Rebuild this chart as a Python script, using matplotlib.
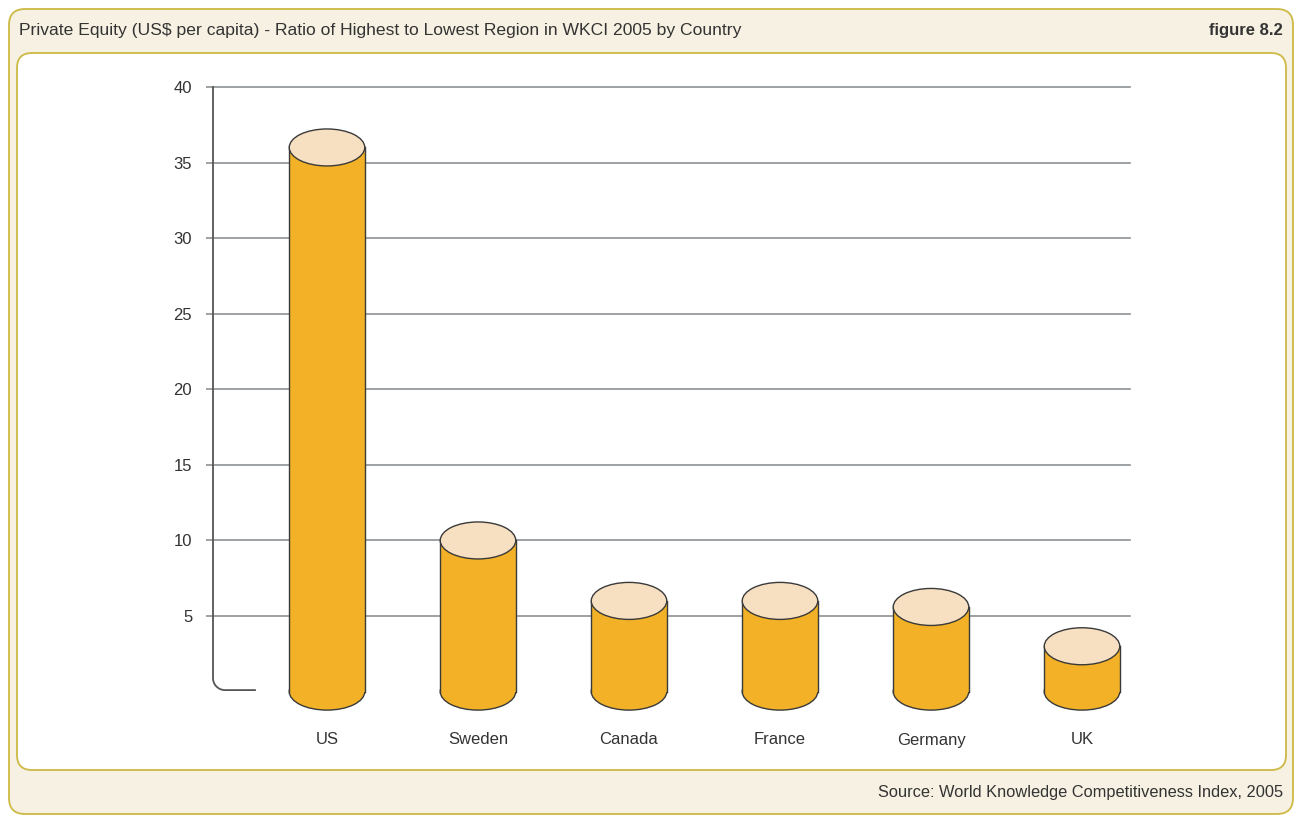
import matplotlib
matplotlib.use('Agg')
import matplotlib.pyplot as plt
from matplotlib.patches import FancyBboxPatch, Ellipse, Rectangle
import numpy as np

plt.rcParams['font.family'] = ['Liberation Sans', 'DejaVu Sans']

# data
countries = ['US', 'Sweden', 'Canada', 'France', 'Germany', 'UK']
ratios = [36.0, 10.0, 6.0, 6.0, 5.6, 3.0]
yticks = [5, 10, 15, 20, 25, 30, 35, 40]

title = 'Private Equity (US$ per capita) - Ratio of Highest to Lowest Region in WKCI 2005 by Country'
source = 'Source: World Knowledge Competitiveness Index, 2005'

body_col = '#F2B126'
top_col = '#F7E0C2'
edge_col = '#3a3a3a'
grid_col = '#8e9194'
frame_col = '#CDB944'
cream = '#F6F1E2'
text_col = '#333333'

W, H = 1295, 818
fig = plt.figure(figsize=(W / 100, H / 100), dpi=100, facecolor='white')

# background frame in pixel coords
bg = fig.add_axes([0, 0, 1, 1])
bg.set_xlim(0, W)
bg.set_ylim(H, 0)
bg.axis('off')
bg.add_patch(FancyBboxPatch((9, 9), 1284, 805, boxstyle='round,pad=0,rounding_size=16',
                            facecolor=cream, edgecolor=frame_col, linewidth=1.3))
bg.add_patch(FancyBboxPatch((17, 53), 1269, 717, boxstyle='round,pad=0,rounding_size=15',
                            facecolor='white', edgecolor=frame_col, linewidth=1.3))
bg.text(19, 31, title, fontsize=12.6, color=text_col, va='center', ha='left')
bg.text(1283, 31, 'figure 8.2', fontsize=12, color=text_col, va='center', ha='right',
        fontweight='bold')
bg.text(1283, 792, source, fontsize=11.8, color=text_col, va='center', ha='right')

# main chart axes
px_left, px_right = 213, 1130
px_y0, px_y40 = 691.6, 87
ax = fig.add_axes([px_left / W, 1 - px_y0 / H, (px_right - px_left) / W, (px_y0 - px_y40) / H])
ax.patch.set_alpha(0)
spacing = 151.0
xl = (px_left - 327) / spacing
xr = (px_right - 327) / spacing
ax.set_xlim(xl, xr)
ax.set_ylim(0, 40)
for s in ax.spines.values():
    s.set_visible(False)
ax.set_xticks([])
ax.set_yticks(yticks)
ax.tick_params(axis='y', length=5, width=1.2, color=grid_col, pad=10, labelsize=12,
               labelcolor=text_col)
for t in yticks:
    ax.plot([xl, xr], [t, t], color=grid_col, lw=1.2, zorder=1, clip_on=False)

# left axis line with rounded corner
ppu_y = (px_y0 - px_y40) / 40
rx, ry = 12 / spacing, 12 / ppu_y
yb = 0.1
th = np.linspace(np.pi, 1.5 * np.pi, 20)
arc_x = xl + rx + rx * np.cos(th)
arc_y = yb + ry + ry * np.sin(th)
lx = np.concatenate([[xl], arc_x, [(255 - 327) / spacing]])
ly = np.concatenate([[40], arc_y, [yb]])
ax.plot(lx, ly, color='#555555', lw=1.3, clip_on=False, zorder=2)

# cylinders
bw = 0.5
eh = 37 / ppu_y
for i, (c, v) in enumerate(zip(countries, ratios)):
    ax.add_patch(Ellipse((i, 0), bw, eh, facecolor=body_col, edgecolor=edge_col, lw=1.0,
                         zorder=3, clip_on=False))
    ax.add_patch(Rectangle((i - bw / 2, 0), bw, v, facecolor=body_col, edgecolor='none',
                           zorder=4, clip_on=False))
    ax.plot([i - bw / 2, i - bw / 2], [0, v], color=edge_col, lw=1.0, zorder=5, clip_on=False)
    ax.plot([i + bw / 2, i + bw / 2], [0, v], color=edge_col, lw=1.0, zorder=5, clip_on=False)
    ax.add_patch(Ellipse((i, v), bw, eh, facecolor=top_col, edgecolor=edge_col, lw=1.0,
                         zorder=6, clip_on=False))
    ax.text(i, -(740 - px_y0) / ppu_y, c, ha='center', va='center', fontsize=12,
            color=text_col)

fig.savefig('out.png', dpi=100, facecolor='white')
